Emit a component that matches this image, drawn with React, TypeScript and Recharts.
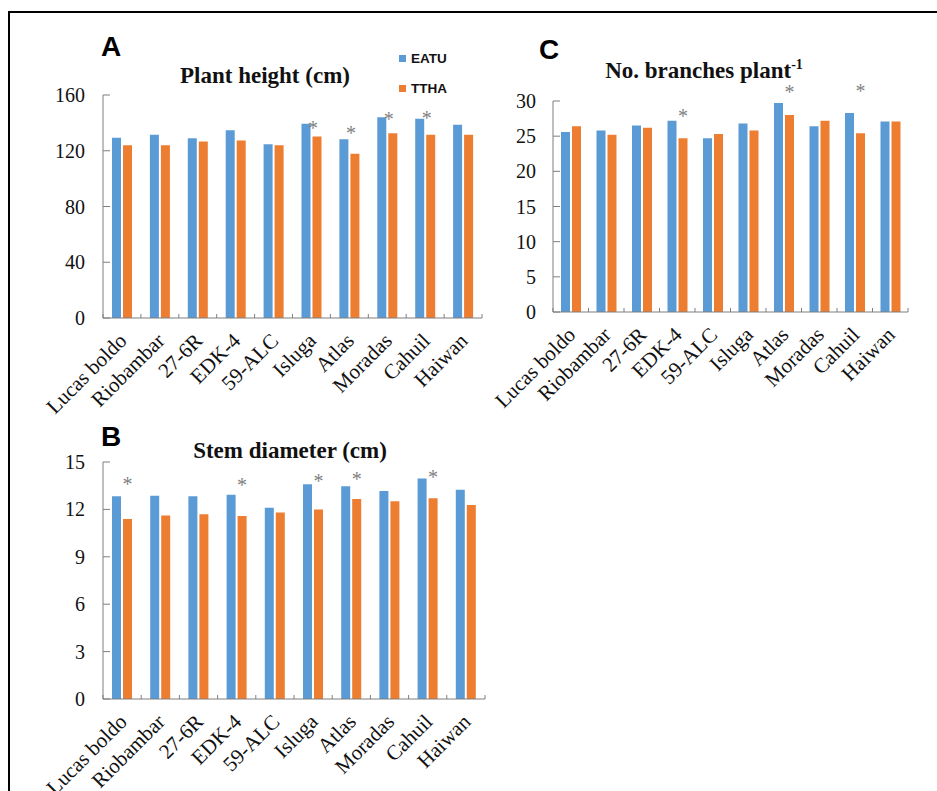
import React from 'react';
import { BarChart, Bar, XAxis, YAxis, LabelList, Legend } from 'recharts';

// ---------- data ----------
const categories = ['Lucas boldo', 'Riobambar', '27-6R', 'EDK-4', '59-ALC', 'Isluga', 'Atlas', 'Moradas', 'Cahuil', 'Haiwan'];

const heightEATU = [129.4, 131.4, 129.0, 134.7, 124.6, 139.3, 128.2, 144.1, 142.9, 138.6];
const heightTTHA = [123.9, 123.9, 126.6, 127.3, 123.9, 130.2, 117.9, 132.6, 131.4, 131.4];
const heightStar: (number | null)[] = [null, null, null, null, null, 138.4, 134.7, 144.4, 144.9, null];
const heightTicks = [0, 40, 80, 120, 160];

const branchEATU = [25.6, 25.8, 26.5, 27.2, 24.7, 26.8, 29.7, 26.4, 28.3, 27.1];
const branchTTHA = [26.4, 25.2, 26.2, 24.7, 25.3, 25.8, 28.0, 27.2, 25.4, 27.1];
const branchStar: (number | null)[] = [null, null, null, 28.2, null, null, 31.6, null, 31.7, null];
const branchTicks = [0, 5, 10, 15, 20, 25, 30];

const stemEATU = [12.83, 12.87, 12.83, 12.93, 12.11, 13.59, 13.46, 13.16, 13.95, 13.25];
const stemTTHA = [11.39, 11.62, 11.69, 11.58, 11.81, 12.0, 12.66, 12.51, 12.7, 12.28];
const stemStar: (number | null)[] = [13.78, null, null, 13.71, null, 13.92, 14.09, null, 14.2, null];
const stemTicks = [0, 3, 6, 9, 12, 15];

const seriesNames = ['EATU', 'TTHA'];

// ---------- styles ----------
const BLUE = '#5B9BD5';
const ORANGE = '#ED7D31';
const AXIS = '#7f7f7f';
const SERIF = '"Liberation Serif", "Times New Roman", serif';
const SANS = '"Liberation Sans", Arial, sans-serif';

const build = (a: number[], b: number[], s: (number | null)[]) =>
  categories.map((name, i) => ({ name, eatu: a[i], ttha: b[i], star: s[i] }));

const makeXTick = (step: number) => (props: any) => {
  const { x, y, payload, index } = props;
  const last = index === categories.length - 1 || payload.value === categories[categories.length - 1];
  const tx = x + 6;
  const ty = y + 24;
  return (
    <g>
      <line x1={x - step / 2} y1={y} x2={x - step / 2} y2={y - 4} stroke={AXIS} strokeWidth={1} />
      {last && <line x1={x + step / 2} y1={y} x2={x + step / 2} y2={y - 4} stroke={AXIS} strokeWidth={1} />}
      <text x={tx} y={ty} transform={`rotate(-45 ${tx} ${ty})`} textAnchor="end" fontFamily={SERIF} fontSize={21} fill="#111">
        {payload.value}
      </text>
    </g>
  );
};

const makeYTick = (gap: number) => (props: any) => {
  const { x, y, payload } = props;
  return (
    <g>
      <line x1={x} y1={y} x2={x + 7} y2={y} stroke={AXIS} strokeWidth={1} />
      <text x={x - gap} y={y} dy="0.35em" textAnchor="end" fontFamily={SERIF} fontSize={20} fill="#111">
        {payload.value}
      </text>
    </g>
  );
};

const makeStar = (vals: number[], stars: (number | null)[], dx: number) => (props: any) => {
  const vb = props.viewBox || {};
  const x = Number(props.x ?? vb.x);
  const y = Number(props.y ?? vb.y);
  const width = Number(props.width ?? vb.width);
  const height = Number(props.height ?? vb.height);
  let idx = props.index;
  if (idx == null) idx = stars.indexOf(props.value);
  if (idx == null || idx < 0) return null;
  const s = stars[idx];
  if (s == null) return null;
  const base = y + height;
  const ppu = height / vals[idx];
  const cy = base - s * ppu;
  return (
    <text x={x + width / 2 + dx} y={cy + 9.4} textAnchor="middle" fontFamily={SERIF} fontSize={20} fill="#7f7f7f">
      *
    </text>
  );
};

const LegendBox = () => (
  <div style={{ fontFamily: SANS, fontWeight: 'bold', fontSize: 13.5, color: '#111' }}>
    {seriesNames.map((n, i) => (
      <div key={n} style={{ display: 'flex', alignItems: 'center', height: 15, marginBottom: i === 0 ? 15 : 0 }}>
        <span style={{ display: 'inline-block', width: 7, height: 7, background: i === 0 ? BLUE : ORANGE, marginRight: 5 }} />
        <span>{n}</span>
      </div>
    ))}
  </div>
);

type PanelProps = {
  left: number; top: number; width: number; height: number;
  margin: { top: number; right: number; bottom: number; left: number };
  yWidth: number; step: number; domain: [number, number]; ticks: number[];
  a: number[]; b: number[]; s: (number | null)[]; starDx: number; yGap: number; legend?: boolean;
};

const Panel = (p: PanelProps) => {
  const data = build(p.a, p.b, p.s);
  return (
    <div style={{ position: 'absolute', left: p.left, top: p.top }}>
      <BarChart width={p.width} height={p.height} data={data} margin={p.margin} barSize={9} barGap={2}>
        <XAxis dataKey="name" interval={0} axisLine={{ stroke: AXIS }} tickLine={false} tickSize={0} tickMargin={0}
          height={90} tick={makeXTick(p.step)} />
        <YAxis domain={p.domain} ticks={p.ticks} width={p.yWidth} axisLine={{ stroke: AXIS }} tickLine={false}
          tickSize={0} tickMargin={0} tick={makeYTick(p.yGap)} interval={0} />
        {p.legend && (
          <Legend layout="vertical" align="center" verticalAlign="middle" content={<LegendBox />}
            wrapperStyle={{ position: 'absolute', left: 399, top: 51, width: 80, height: 50 }} />
        )}
        <Bar dataKey="eatu" name="EATU" fill={BLUE} isAnimationActive={false} />
        <Bar dataKey="ttha" name="TTHA" fill={ORANGE} isAnimationActive={false}>
          <LabelList dataKey="star" content={makeStar(p.b, p.s, p.starDx)} />
        </Bar>
      </BarChart>
    </div>
  );
};

export default function App() {
  return (
    <div style={{ position: 'absolute', left: 0, top: 0, width: 937, height: 791, background: '#fff', overflow: 'hidden' }}>
      <div style={{ position: 'absolute', left: 8, top: 11, width: 960, height: 820, borderLeft: '2px solid #000', borderTop: '2px solid #000' }} />
      <Panel left={0} top={0} width={500} height={420} margin={{ top: 95, right: 18, bottom: 12, left: 43 }}
        yWidth={60} step={37.9} domain={[0, 160]} ticks={heightTicks} a={heightEATU} b={heightTTHA} s={heightStar}
        starDx={-4} yGap={18} legend />
      <Panel left={470} top={0} width={467} height={420} margin={{ top: 101, right: 29, bottom: 18, left: 33 }}
        yWidth={50} step={35.5} domain={[0, 30]} ticks={branchTicks} a={branchEATU} b={branchTTHA} s={branchStar}
        starDx={0} yGap={17} />
      <Panel left={0} top={420} width={500} height={371} margin={{ top: 42, right: 15, bottom: 2, left: 43 }}
        yWidth={60} step={38.2} domain={[0, 15]} ticks={stemTicks} a={stemEATU} b={stemTTHA} s={stemStar}
        starDx={0} yGap={18} />
      <svg width={937} height={791} style={{ position: 'absolute', left: 0, top: 0, pointerEvents: 'none' }}>
        <text x={101} y={56} fontFamily={SANS} fontWeight="bold" fontSize={28} fill="#000">A</text>
        <text x={539} y={59} fontFamily={SANS} fontWeight="bold" fontSize={28} fill="#000">C</text>
        <text x={101} y={446} fontFamily={SANS} fontWeight="bold" fontSize={28} fill="#000">B</text>
        <text x={265} y={83} textAnchor="middle" fontFamily={SERIF} fontWeight="bold" fontSize={23} fill="#111">Plant height (cm)</text>
        <text x={704} y={78} textAnchor="middle" fontFamily={SERIF} fontWeight="bold" fontSize={23} fill="#111">
          No. branches plant<tspan fontSize={14} dy={-9}>-1</tspan>
        </text>
        <text x={290} y={458} textAnchor="middle" fontFamily={SERIF} fontWeight="bold" fontSize={23} fill="#111">Stem diameter (cm)</text>
      </svg>
    </div>
  );
}
